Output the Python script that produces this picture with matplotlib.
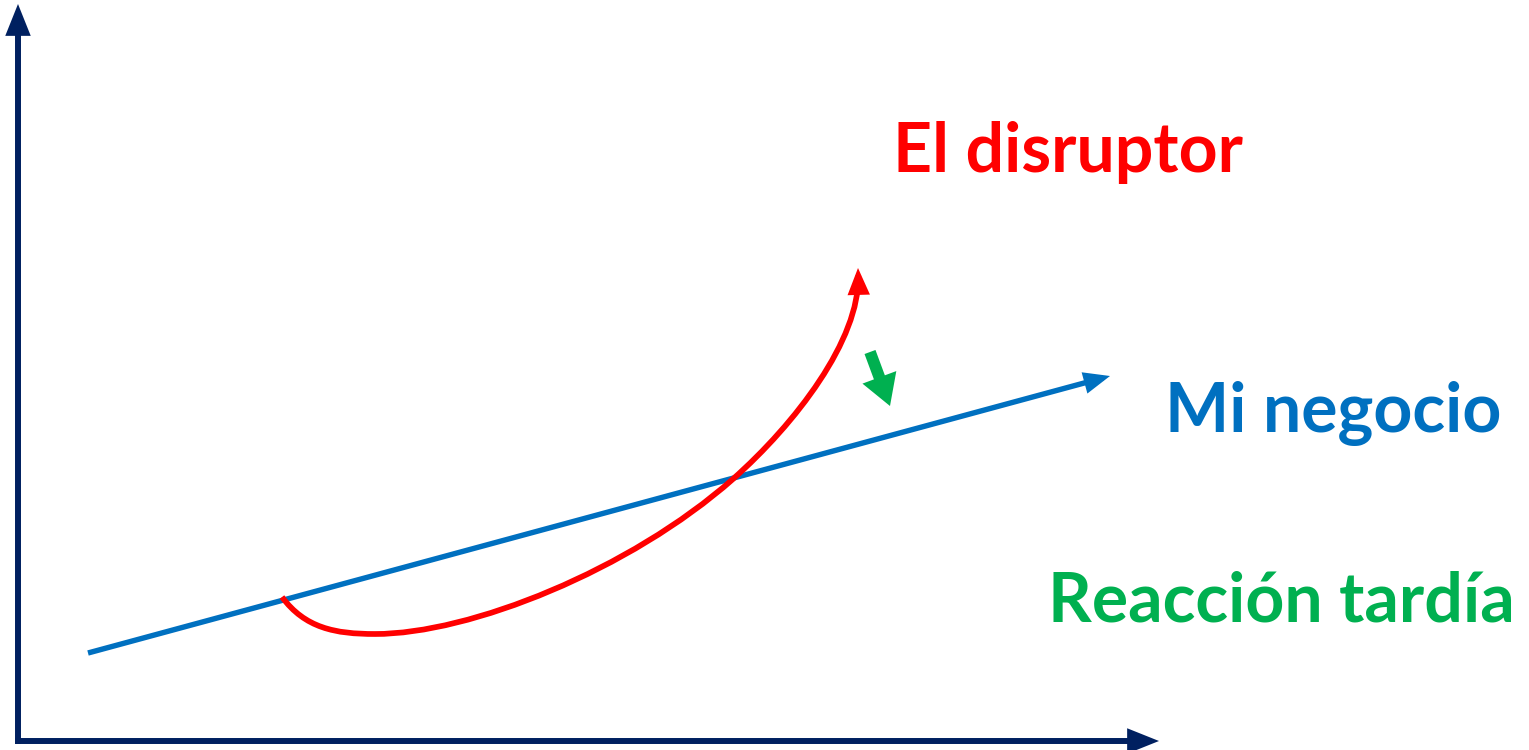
import matplotlib.pyplot as plt
from matplotlib.patches import FancyArrowPatch
from matplotlib.path import Path

# everything is in picture pixels (origin top left)
axis_origin = (18, 741)
y_axis_tip = (18, 4)
x_axis_tip = (1159, 741)

# "Mi negocio": straight line
blue_start = (88, 653)
blue_tip = (1110, 376)

# "El disruptor": bezier control points of the curve
red_verts = [(282, 597),
             (305, 628), (335, 634), (375, 634),
             (470, 634), (630, 570), (733, 479),
             (795, 424), (860, 340), (858, 268)]

# "Reaccion tardia" arrow
green_start = (870, 352)
green_tip = (890, 406)

labels = ['El disruptor', 'Mi negocio', 'Reacción tardía']
label_pos = [(893, 172), (1165, 432), (1048, 622)]
label_colors = ['#FF0000', '#0070C0', '#00B050']

fig = plt.figure(figsize=(15.29, 7.5), dpi=100)
ax = fig.add_axes([0, 0, 1, 1])
ax.set_xlim(0, 1529)
ax.set_ylim(750, 0)
ax.axis('off')

navy = '#002060'
# axes arrows
for tip, start in [(y_axis_tip, (axis_origin[0], axis_origin[1] + 3)),
                   (x_axis_tip, (axis_origin[0] - 3, axis_origin[1]))]:
    ax.add_patch(FancyArrowPatch(start, tip,
                                 arrowstyle='-|>,head_length=0.75,head_width=0.3',
                                 color=navy, lw=4.3, shrinkA=0, shrinkB=0,
                                 mutation_scale=20, joinstyle='miter', capstyle='butt'))

ax.add_patch(FancyArrowPatch(blue_start, blue_tip,
                             arrowstyle='-|>,head_length=0.6,head_width=0.25',
                             color='#0070C0', lw=3.9, shrinkA=0, shrinkB=0,
                             mutation_scale=20, joinstyle='miter', capstyle='butt'))

codes = [Path.MOVETO] + [Path.CURVE4] * 9
red_path = Path(red_verts, codes)
ax.add_patch(FancyArrowPatch(path=red_path, arrowstyle='-|>,head_length=0.6,head_width=0.25',
                             color='#FF0000', lw=4.1, mutation_scale=20, shrinkA=0, shrinkB=0,
                             joinstyle='miter', capstyle='butt'))

ax.add_patch(FancyArrowPatch(green_start, green_tip,
                             arrowstyle='simple,head_length=1.1,tail_width=0.42,head_width=1.3',
                             color='#00B050', lw=0, shrinkA=0, shrinkB=0, mutation_scale=20))

for txt, (x, y), c in zip(labels, label_pos, label_colors):
    ax.text(x, y, txt, color=c, fontsize=49, fontweight='bold', family='Lato',
            ha='left', va='baseline')

fig.savefig('out.png', dpi=100)
